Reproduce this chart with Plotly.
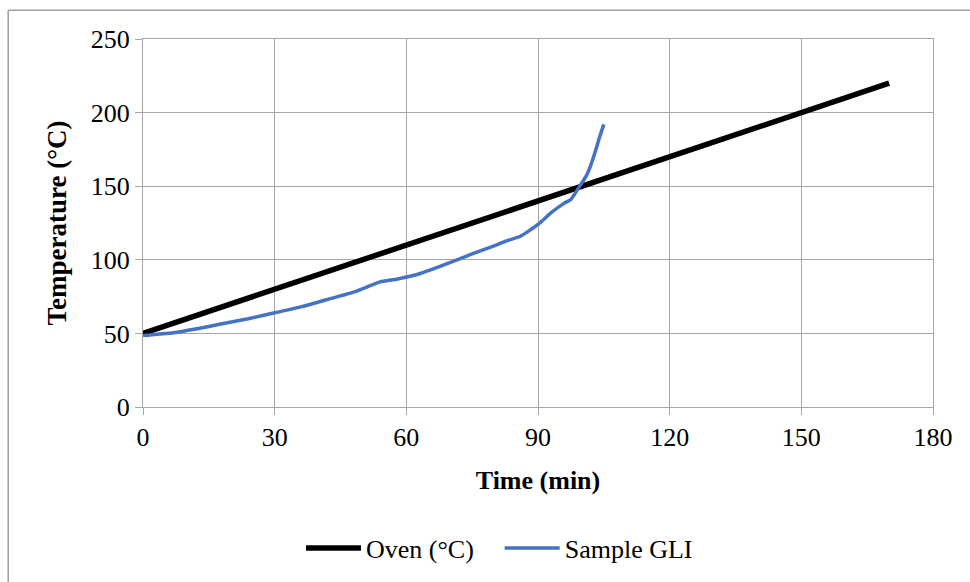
import plotly.graph_objects as go

# Oven set-point ramp (°C) against time (min)
oven_time = [0, 10, 20, 30, 40, 50, 60, 70, 80, 90, 100, 110, 120, 130, 140, 150, 160, 170]
oven_temp = [50, 60, 70, 80, 90, 100, 110, 120, 130, 140, 150, 160, 170, 180, 190, 200, 210, 220]

# Measured sample temperature (°C) against time (min)
sample_time = [0, 3, 7, 12, 18, 24, 30, 36, 42, 48, 51, 54, 58, 63, 69, 75, 80, 83, 86,
               90, 93, 96, 97.5, 99.5, 101, 102, 103, 104, 105]
sample_temp = [48.5, 49.5, 50.5, 53, 56.5, 60, 64, 68, 73, 78, 81.5, 85, 87, 90.5, 97,
               104, 109.5, 113, 116, 124, 132, 138.5, 141, 150, 157, 164, 173, 183, 192]

x_ticks = [0, 30, 60, 90, 120, 150, 180]
y_ticks = [0, 50, 100, 150, 200, 250]

FONT = "Liberation Serif, Times New Roman, serif"
GRID = "#a6a6a6"
FRAME = "#a0a0a0"

fig = go.Figure()
fig.add_trace(go.Scatter(
    x=oven_time, y=oven_temp, mode="lines", name="Oven (°C)",
    line=dict(color="#000000", width=5.5), legend="legend",
))
fig.add_trace(go.Scatter(
    x=sample_time, y=sample_temp, mode="lines", name="Sample GLI",
    line=dict(color="#4472C4", width=3.5, shape="spline", smoothing=0.5),
    legend="legend2",
))

axis_common = dict(
    showgrid=True, gridcolor=GRID, gridwidth=1,
    showline=True, linecolor=GRID, linewidth=1,
    ticks="outside", ticklen=7, tickcolor=GRID, tickwidth=1,
    zeroline=False, tickfont=dict(family=FONT, size=26, color="#000000"),
)

fig.update_xaxes(
    range=[0, 180], tickvals=x_ticks, mirror=True,
    title=dict(text="<b>Time (min)</b>", font=dict(family=FONT, size=26, color="#000000"),
               standoff=19),
    **axis_common,
)
fig.update_yaxes(
    range=[0, 250], tickvals=y_ticks, mirror=True,
    title=dict(text="<b>Temperature (°C)</b>", font=dict(family=FONT, size=27, color="#000000"),
               standoff=16),
    **axis_common,
)

# Chart-area frame: top and left edges of the outer border
fig.add_shape(type="line", xref="paper", yref="paper",
              x0=-0.1706, x1=1.3, y0=1.078, y1=1.078,
              line=dict(color=FRAME, width=1.5), layer="below")
fig.add_shape(type="line", xref="paper", yref="paper",
              x0=-0.1706, x1=-0.1706, y0=-2, y1=1.078,
              line=dict(color=FRAME, width=1.5), layer="below")

legend_style = dict(
    orientation="h", y=-0.38, xanchor="left", yanchor="middle",
    font=dict(family=FONT, size=26, color="#000000"),
    itemwidth=55, bgcolor="rgba(0,0,0,0)",
)

fig.update_layout(
    width=970, height=582,
    margin=dict(l=143, r=37, t=39, b=174),
    paper_bgcolor="white", plot_bgcolor="white",
    showlegend=True,
    legend=dict(x=0.2, **legend_style),
    legend2=dict(x=0.4515, **legend_style),
)

fig.write_html("out.html")
